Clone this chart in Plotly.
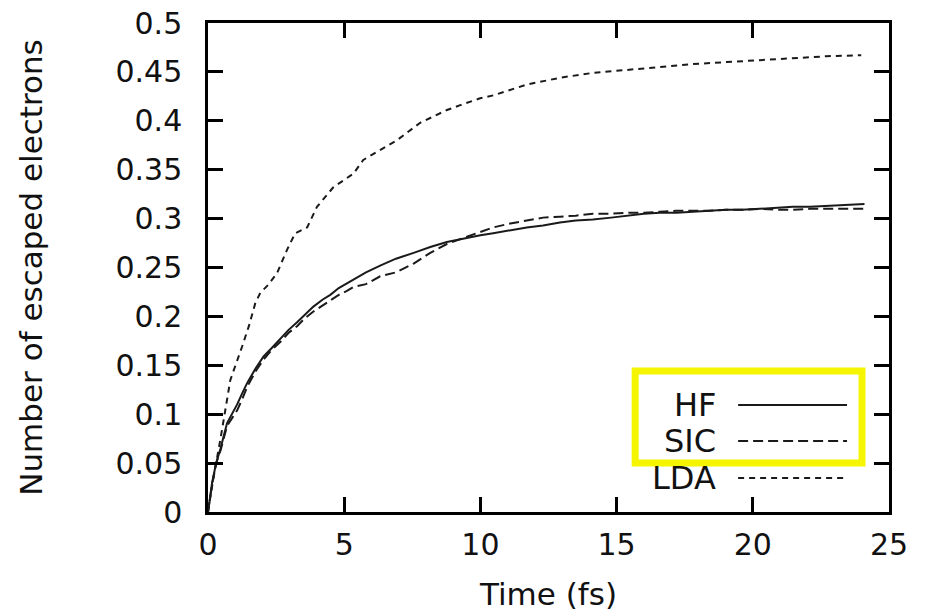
import plotly.graph_objects as go

# ---- data ----
t_hf = [0, 0.15, 0.3, 0.46, 0.7, 0.9, 1.07, 1.25, 1.44, 1.75, 2.04, 2.35, 2.66, 2.95, 3.27, 3.55, 3.87, 4.2, 4.49, 4.8, 5.1,
        5.34, 5.8, 6.32, 6.9, 7.55, 8.16, 8.77, 9.26, 10.0, 10.47, 11.1, 11.7, 12.3, 12.92, 13.5, 14.13, 14.8,
        15.37, 16.0, 16.59, 17.2, 17.8, 18.4, 19.03, 19.6, 20.25, 20.9, 21.47, 22.1, 22.7, 23.4, 24.1]
v_hf = [0, 0.03, 0.05, 0.065, 0.091, 0.101, 0.11, 0.121, 0.132, 0.147, 0.159, 0.168, 0.177, 0.186, 0.194, 0.201, 0.21, 0.217, 0.222, 0.229, 0.234,
        0.238, 0.245, 0.252, 0.259, 0.265, 0.271, 0.276, 0.279, 0.283, 0.285, 0.288, 0.291, 0.293, 0.296, 0.298, 0.299, 0.301,
        0.303, 0.305, 0.306, 0.306, 0.307, 0.308, 0.309, 0.309, 0.31, 0.311, 0.312, 0.312, 0.313, 0.314, 0.315]

t_sic = [0, 0.15, 0.3, 0.46, 0.7, 0.9, 1.07, 1.25, 1.44, 1.75, 2.04, 2.35, 2.66, 2.95, 3.27, 3.55, 3.87, 4.2, 4.49, 4.8, 5.1,
         5.34, 5.8, 6.32, 6.9, 7.55, 8.16, 8.77, 9.26, 10.0, 10.47, 11.1, 11.7, 12.3, 12.92, 13.5, 14.13, 14.8,
         15.37, 16.0, 16.59, 17.2, 17.8, 18.4, 19.03, 19.6, 20.25, 20.9, 21.47, 22.1, 22.7, 23.4, 24.1]
v_sic = [0, 0.028, 0.05, 0.063, 0.088, 0.096, 0.104, 0.115, 0.128, 0.144, 0.156, 0.166, 0.174, 0.183, 0.19, 0.198, 0.205, 0.211, 0.216, 0.222, 0.226,
         0.23, 0.233, 0.241, 0.245, 0.254, 0.265, 0.274, 0.279, 0.286, 0.291, 0.295, 0.298, 0.301, 0.302, 0.303, 0.305, 0.305,
         0.306, 0.306, 0.307, 0.308, 0.308, 0.308, 0.309, 0.309, 0.31, 0.309, 0.309, 0.31, 0.31, 0.31, 0.31]

t_lda = [0, 0.2, 0.46, 0.82, 1.25, 1.5, 1.74, 1.92, 2.2, 2.53, 2.9, 3.2, 3.64, 4.0, 4.6, 5.34, 5.7, 6.32, 6.93,
         7.79, 8.77, 9.26, 9.99, 10.47, 11.7, 12.92, 14.13, 15.37, 16.59, 17.8, 19.03, 20.25, 21.47, 22.7, 23.98]
v_lda = [0, 0.035, 0.075, 0.135, 0.169, 0.19, 0.214, 0.224, 0.232, 0.244, 0.268, 0.285, 0.291, 0.312, 0.332, 0.346, 0.36, 0.37, 0.38,
         0.398, 0.411, 0.416, 0.423, 0.426, 0.437, 0.444, 0.449, 0.452, 0.455, 0.458, 0.46, 0.462, 0.464, 0.466, 0.467]

x_ticks = [0, 5, 10, 15, 20, 25]
y_ticks = [0, 0.05, 0.1, 0.15, 0.2, 0.25, 0.3, 0.35, 0.4, 0.45, 0.5]
y_tick_text = ["0", "0.05", "0.1", "0.15", "0.2", "0.25", "0.3", "0.35", "0.4", "0.45", "0.5"]
legend_names = ["HF", "SIC", "LDA"]

FONT = "DejaVu Sans, Liberation Sans, sans-serif"
W, H = 928, 616
L, R, T, B = 207.5, 39, 23, 104

fig = go.Figure()
fig.add_trace(go.Scatter(x=t_hf, y=v_hf, mode="lines", name="HF",
                         line=dict(color="#1a1a1a", width=2)))
fig.add_trace(go.Scatter(x=t_sic, y=v_sic, mode="lines", name="SIC",
                         line=dict(color="#1a1a1a", width=2, dash="10px,5px")))
fig.add_trace(go.Scatter(x=t_lda, y=v_lda, mode="lines", name="LDA",
                         line=dict(color="#1a1a1a", width=2, dash="6px,5px")))

axis_common = dict(showgrid=False, zeroline=False, showline=True, linecolor="black", linewidth=2.5,
                   mirror="allticks", ticks="inside", ticklen=15, tickwidth=2.5, tickcolor="black",
                   automargin=False,
                   tickfont=dict(family=FONT, size=30, color="#111"))
fig.update_xaxes(range=[0, 25], tickvals=x_ticks, ticktext=[str(v) for v in x_ticks], ticklabelstandoff=4,
                 title=dict(text="Time (fs)", font=dict(family=FONT, size=31, color="#111"), standoff=23),
                 **axis_common)
fig.update_yaxes(range=[0, 0.5], tickvals=y_ticks, ticktext=y_tick_text, ticklabelstandoff=17,
                 title=dict(text="Number of escaped electrons", font=dict(family=FONT, size=31, color="#111"), standoff=64),
                 **axis_common)

# manual legend in pixel-based paper coordinates
pw, ph = W - L - R, H - T - B
def px(x): return (x - L) / pw
def py(y): return (H - B - y) / ph

legend_rows_y = [405, 441, 478]
dashes = ["solid", "10px,5px", "6px,5px"]
for name, yy, d in zip(legend_names, legend_rows_y, dashes):
    fig.add_annotation(x=px(718), y=py(yy), xref="paper", yref="paper", text=name, showarrow=False,
                       xanchor="right", yanchor="middle", font=dict(family=FONT, size=32, color="#111"))
    fig.add_shape(type="line", xref="paper", yref="paper", x0=px(738), x1=px(847), y0=py(yy), y1=py(yy),
                  line=dict(color="#1a1a1a", width=2, dash=d))

# yellow highlight box
fig.add_shape(type="rect", xref="paper", yref="paper", x0=px(635), x1=px(862), y0=py(371), y1=py(463),
              line=dict(color="#f5f500", width=7), fillcolor="rgba(0,0,0,0)")

fig.update_layout(width=W, height=H, margin=dict(l=L, r=R, t=T, b=B),
                  paper_bgcolor="white", plot_bgcolor="white", showlegend=False)

fig.write_html("out.html")
